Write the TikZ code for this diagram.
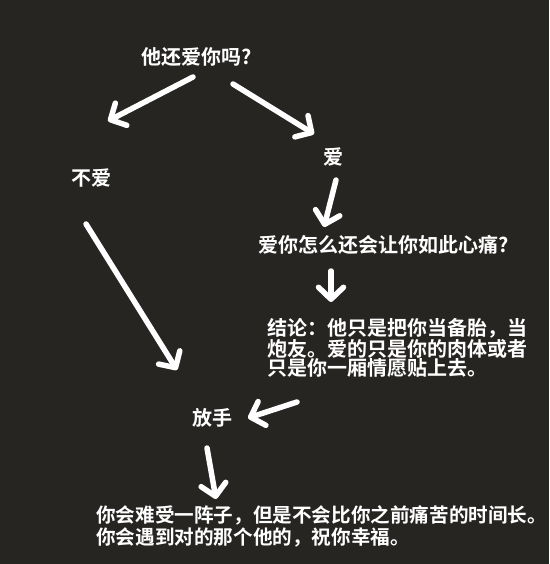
\documentclass[tikz,border=0pt]{standalone}
\usepackage{fontspec}
\setmainfont{Noto Sans CJK SC}[BoldFont={Noto Sans CJK SC Bold}]
\usetikzlibrary{arrows.meta}
\definecolor{bgc}{RGB}{38,37,34}
\tikzset{
  txt/.style={text=white, inner sep=0pt, font=\fontsize{20}{22}\selectfont\bfseries},
  smtxt/.style={txt, font=\fontsize{19.6}{22}\selectfont\bfseries},
  arr/.style={draw=white, line width=5.5pt, line cap=round,
    -{Straight Barb[length=12pt,width=25pt,round]}},
}
\begin{document}
\begin{tikzpicture}[x=1pt,y=-1pt]
\fill[bgc] (0,0) rectangle (549,564);
\useasboundingbox (0,0) rectangle (549,564);
% text nodes
\node[txt, anchor=base] (q) at (197,64.5) {他还爱你吗?};
\node[txt, anchor=base] (ai) at (333,164.5) {爱};
\node[txt, anchor=base] (bu) at (91,185.5) {不爱};
\node[txt, anchor=base west] (h) at (258,252.5) {爱你怎么还会让你如此心痛?};
\node[txt, anchor=base west] (j1) at (267,335.5) {结论：他只是把你当备胎，当};
\node[txt, anchor=base west] (j2) at (267,356) {炮友。爱的只是你的肉体或者};
\node[txt, anchor=base west] (j3) at (267,375.5) {只是你一厢情愿贴上去。};
\node[txt, anchor=base] (fs) at (212,425.5) {放手};
\node[smtxt, anchor=base west] (b1) at (96,522.5) {你会难受一阵子，但是不会比你之前痛苦的时间长。\hspace*{-0.6em}};
\node[smtxt, anchor=base west] (b2) at (96,544.5) {你会遇到对的那个他的，祝你幸福。};
% arrow end points
\coordinate (a1s) at (193,77);  \coordinate (a1e) at (108,121);
\coordinate (a2s) at (233,84);  \coordinate (a2e) at (314,134);
\coordinate (a3s) at (336,180); \coordinate (a3e) at (324,227);
\coordinate (a4s) at (331,271); \coordinate (a4e) at (331,302);
\coordinate (a5s) at (86,224);  \coordinate (a5e) at (177,370);
\coordinate (a6s) at (297,402); \coordinate (a6e) at (248,418);
\coordinate (a7s) at (207,448); \coordinate (a7e) at (216,499);
\draw[arr] (a1s) -- (a1e);
\draw[arr] (a2s) -- (a2e);
\draw[arr] (a3s) -- (a3e);
\draw[arr] (a4s) -- (a4e);
\draw[arr] (a5s) -- (a5e);
\draw[arr] (a6s) -- (a6e);
\draw[arr] (a7s) -- (a7e);
\end{tikzpicture}
\end{document}
